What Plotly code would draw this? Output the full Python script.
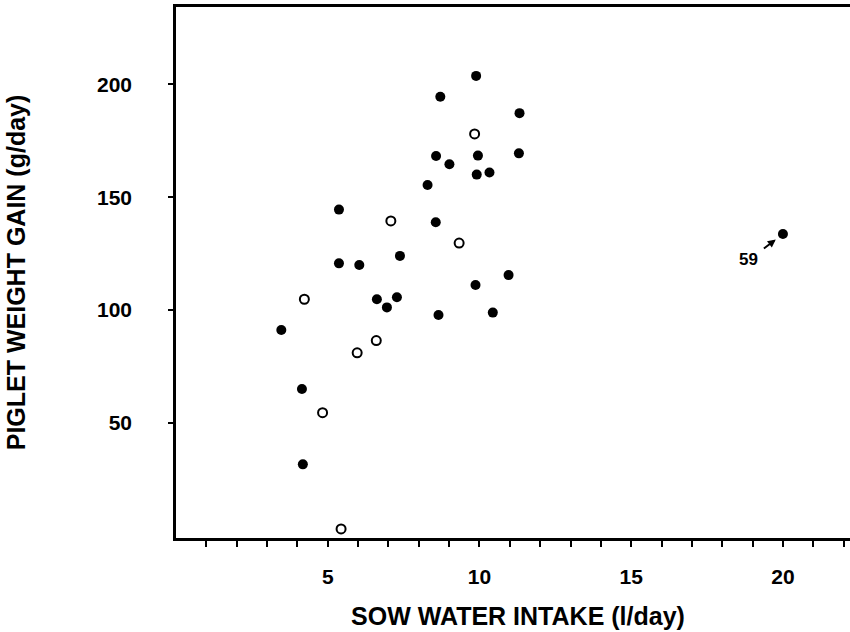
import plotly.graph_objects as go

# Filled circles (sow water intake l/day, piglet weight gain g/day)
filled_x = [3.47, 4.15, 4.18, 5.37, 5.37, 6.04, 6.62, 6.95, 7.28, 7.38, 8.29, 8.56,
            8.57, 8.65, 8.71, 9.01, 9.87, 9.89, 9.91, 9.95, 10.33, 10.44, 10.96,
            11.30, 11.32, 20.0]
filled_y = [91.2, 65.1, 31.7, 144.5, 120.7, 120.0, 104.8, 101.2, 105.7, 124.0, 155.4, 138.9,
            168.2, 97.8, 194.5, 164.6, 111.1, 203.7, 160.0, 168.4, 160.9, 98.9, 115.5,
            169.4, 187.2, 133.7]

# Open circles
open_x = [4.23, 4.83, 5.44, 5.97, 6.60, 7.08, 9.33, 9.84]
open_y = [104.8, 54.6, 3.1, 81.1, 86.5, 139.5, 129.7, 178.0]

x_tick_vals = list(range(1, 23))
x_tick_text = ["5" if v == 5 else "10" if v == 10 else "15" if v == 15 else "20" if v == 20 else ""
               for v in x_tick_vals]
y_tick_vals = [50, 100, 150, 200]
y_tick_text = ["50", "100", "150", "200"]

outlier_label = "59"

FONT = "Liberation Sans, Arial, sans-serif"

fig = go.Figure()
fig.add_trace(go.Scatter(
    x=filled_x, y=filled_y, mode="markers",
    marker=dict(size=10, color="black", line=dict(width=0)),
    showlegend=False, cliponaxis=False))
fig.add_trace(go.Scatter(
    x=open_x, y=open_y, mode="markers",
    marker=dict(size=9, color="white", line=dict(width=2, color="black")),
    showlegend=False, cliponaxis=False))

fig.add_annotation(
    x=filled_x[-1], y=filled_y[-1], text=outlier_label,
    showarrow=True, ax=-34, ay=26, axref="pixel", ayref="pixel",
    arrowhead=2, arrowsize=0.8, arrowwidth=2, arrowcolor="black",
    standoff=9, startstandoff=5,
    font=dict(family=FONT, size=17, color="black", weight="bold"))

fig.update_layout(
    width=860, height=632,
    margin=dict(l=176, r=0, t=7, b=94, autoexpand=False),
    paper_bgcolor="white", plot_bgcolor="white",
    font=dict(family=FONT, size=21, color="black", weight="bold"),
    xaxis=dict(
        range=[0, 22.54], tickmode="array", tickvals=x_tick_vals, ticktext=x_tick_text,
        ticks="outside", ticklen=6, tickwidth=1.5, tickcolor="black",
        showline=True, linecolor="black", linewidth=2.5, mirror=True,
        showgrid=False, zeroline=False, ticklabelstandoff=12, automargin=False,
        tickfont=dict(family=FONT, size=21, color="black", weight="bold"),
        title=dict(text="SOW WATER INTAKE (l/day)", standoff=21,
                   font=dict(family=FONT, size=25, color="black", weight="bold"))),
    yaxis=dict(
        range=[-0.9, 234.2], tickmode="array", tickvals=y_tick_vals, ticktext=y_tick_text,
        ticks="outside", ticklen=5, tickwidth=2, tickcolor="black",
        showline=True, linecolor="black", linewidth=2.5, mirror=False,
        showgrid=False, zeroline=False, ticklabelstandoff=32, automargin=False,
        tickfont=dict(family=FONT, size=21, color="black", weight="bold"),
        title=dict(text="PIGLET WEIGHT GAIN (g/day)", standoff=65,
                   font=dict(family=FONT, size=25, color="black", weight="bold"))),
)

fig.write_html("out.html", config={"displayModeBar": False},
               post_script="document.body.style.margin='0';document.body.style.overflow='hidden';")
